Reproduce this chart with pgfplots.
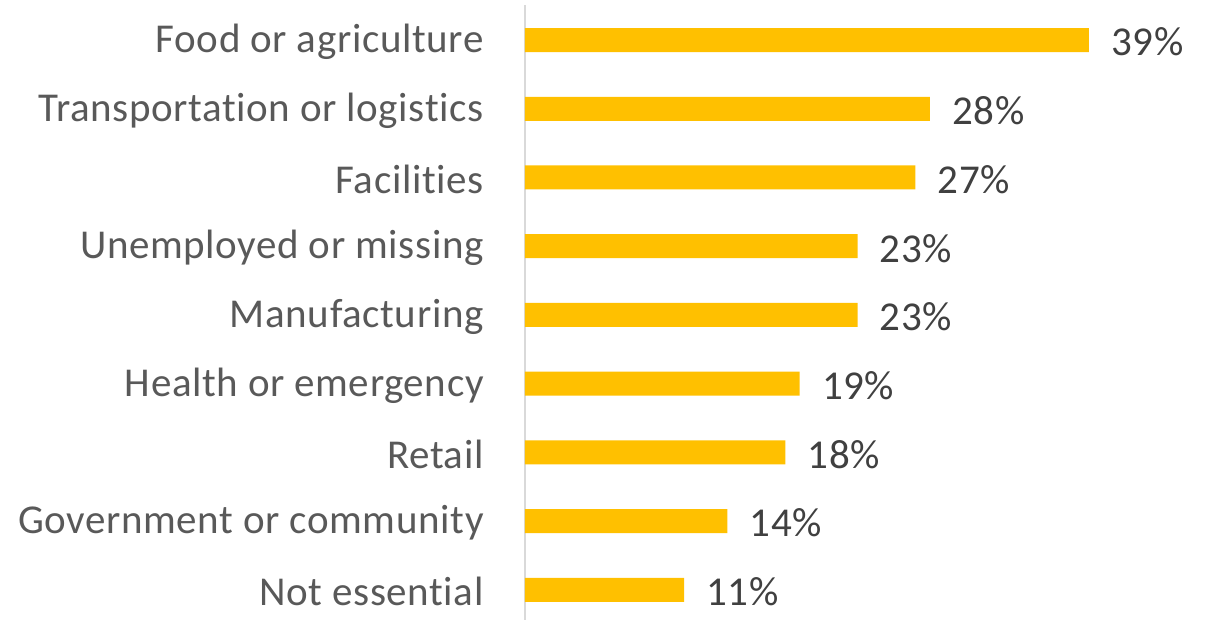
\documentclass[border=0pt]{standalone}
\usepackage{pgfplots}
\pgfplotsset{compat=1.18}
\usepackage{fontspec}
\setmainfont{Carlito}[LetterSpace=1.5, Ligatures=NoCommon]
\definecolor{bargold}{HTML}{FFC000}
\definecolor{labgray}{HTML}{595959}
\definecolor{valgray}{HTML}{404040}
\definecolor{axgray}{HTML}{D9D9D9}
\begin{document}
\begin{tikzpicture}
\begin{axis}[
  at={(0,0)}, anchor=south west,
  scale only axis,
  width=289.2pt, height=307.5pt,
  xmin=0, xmax=40,
  ymin=-0.44, ymax=8.51,
  xbar, bar width=12pt,
  axis x line=none,
  axis y line*=left,
  y axis line style={draw=axgray, line width=1pt},
  ytick={0,1,2,3,4,5,6,7,8},
  yticklabels={Not essential,Government or community,Retail,Health or emergency,Manufacturing,Unemployed or missing,Facilities,Transportation or logistics,Food or agriculture},
  major tick length=0pt,
  yticklabel style={font=\fontsize{20.5}{24}\selectfont, text=labgray, inner sep=0pt, xshift=-20.5pt, yshift=-1pt},
  /pgf/number format/assume math mode=true,
  nodes near coords={\pgfmathprintnumber{\pgfplotspointmeta}\%},
  point meta=x,
  nodes near coords style={font=\fontsize{20.5}{24}\selectfont, text=valgray, anchor=west, inner sep=0pt, xshift=11pt, yshift=-1pt},
  clip=false,
]
\addplot[fill=bargold, draw=none] coordinates {
(11,0) (14,1) (18,2) (19,3) (23,4) (23,5) (27,6) (28,7) (39,8)
};
\end{axis}
\pgfresetboundingbox
\path (-262.5pt,0pt) rectangle (340pt,310pt);
\end{tikzpicture}
\end{document}
